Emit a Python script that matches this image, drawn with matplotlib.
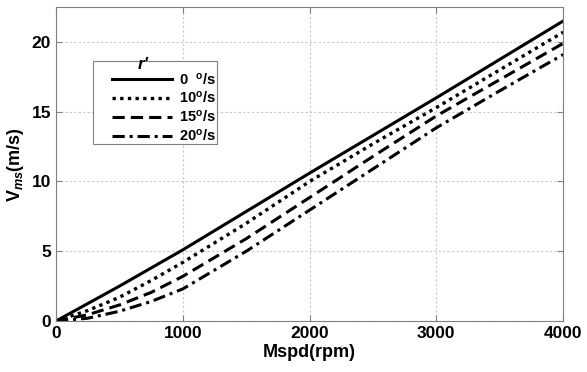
import numpy as np
import matplotlib.pyplot as plt
from matplotlib.patches import Rectangle

plt.rcParams['font.family'] = ['Liberation Sans', 'DejaVu Sans']
plt.rcParams['mathtext.fontset'] = 'custom'
plt.rcParams['mathtext.rm'] = 'Liberation Sans:bold'
plt.rcParams['mathtext.it'] = 'Liberation Sans:italic:bold'
plt.rcParams['mathtext.bf'] = 'Liberation Sans:bold'

# Data
rpm = [0, 250, 500, 750, 1000, 1500, 2000, 2500, 3000, 3500, 4000]
v_r0 = [0, 1.25, 2.5, 3.8, 5.1, 7.85, 10.6, 13.3, 16.0, 18.75, 21.5]
v_r10 = [0, 0.75, 1.7, 2.9, 4.2, 7.0, 10.0, 12.7, 15.3, 18.0, 20.7]
v_r15 = [0, 0.45, 1.15, 2.05, 3.2, 5.9, 8.85, 11.8, 14.7, 17.3, 19.9]
v_r20 = [0, 0.2, 0.7, 1.4, 2.3, 5.0, 7.95, 10.9, 13.85, 16.5, 19.1]
labels = ['0  $^\\mathrm{o}$/s', '10$^\\mathrm{o}$/s', '15$^\\mathrm{o}$/s', '20$^\\mathrm{o}$/s']
xticks = [0, 1000, 2000, 3000, 4000]
yticks = [0, 5, 10, 15, 20]

fig = plt.figure(figsize=(5.87, 3.72), dpi=100)
ax = fig.add_axes([0.0954, 0.137, 0.864, 0.844])

ax.plot(rpm, v_r0, 'k-', lw=2.2, label=labels[0])
ax.plot(rpm, v_r10, 'k', linestyle=(0, (1, 1.3)), lw=2.4, label=labels[1])
ax.plot(rpm, v_r15, 'k', linestyle=(0, (4, 2)), lw=2.2, label=labels[2])
ax.plot(rpm, v_r20, 'k', linestyle=(0, (4, 1.6, 1, 1.6)), lw=2.2, label=labels[3])

ax.set_xlim(0, 4000)
ax.set_ylim(0, 22.5)
ax.set_xticks(xticks)
ax.set_yticks(yticks)
ax.tick_params(direction='in', top=True, right=True, labelsize=12.5, color='#808080', length=4)
for t in ax.get_xticklabels() + ax.get_yticklabels():
    t.set_fontweight('bold')
for s in ax.spines.values():
    s.set_color('#808080')
ax.grid(True, color='#c8c8c8', linestyle=(0, (2, 2)), lw=0.8)

ax.set_xlabel('Mspd(rpm)', fontsize=13, fontweight='bold', labelpad=2)
ax.set_ylabel('V$_{ms}$(m/s)', fontsize=13, fontweight='bold', labelpad=4)

# legend box drawn separately so the title can sit tight above the rows
box = Rectangle((0.073, 0.564), 0.245, 0.264, transform=ax.transAxes,
                facecolor='white', edgecolor='#808080', lw=0.8, zorder=4)
ax.add_patch(box)
leg = ax.legend(loc='upper left', bbox_to_anchor=(0.110, 0.796),
                fontsize=10.5, frameon=False, handlelength=4.1,
                borderpad=0, labelspacing=0.2, handletextpad=0.5,
                borderaxespad=0)
leg.set_zorder(5)
for t in leg.get_texts():
    t.set_fontweight('bold')
ax.text(0.172, 0.803, "r'", transform=ax.transAxes, ha='center', va='baseline',
        fontsize=12.5, fontweight='bold', fontstyle='italic', zorder=6)

fig.savefig('out.png', dpi=100)
